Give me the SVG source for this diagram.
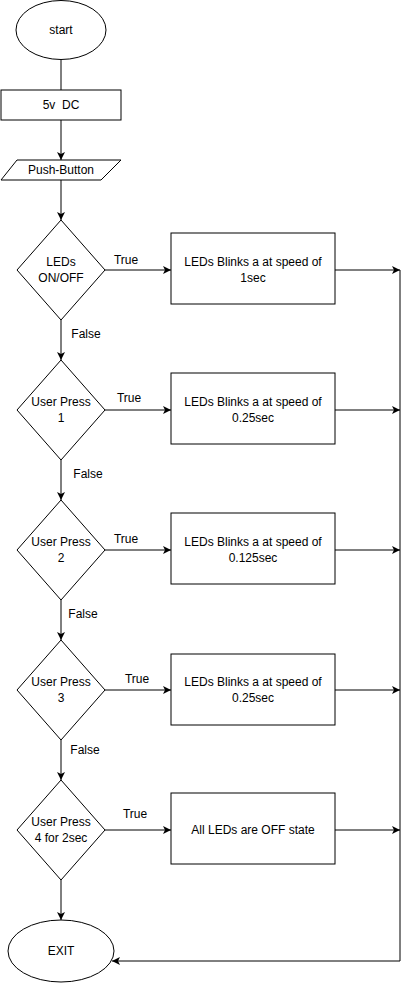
<svg xmlns="http://www.w3.org/2000/svg" width="409" height="983" viewBox="0 0 409 983">
<style>
.s{fill:#fff;stroke:#000;stroke-width:1}
.c{fill:none;stroke:#000;stroke-width:1}
text{font-family:"Liberation Sans",Arial,sans-serif;font-size:12px;fill:#000}
.m{text-anchor:middle}
</style>
<defs>
<marker id="a" markerUnits="userSpaceOnUse" markerWidth="10" markerHeight="10" refX="8" refY="4" orient="auto">
<path d="M0,0 L8,4 L0,8 L2,4 z" fill="#000"/>
</marker>
</defs>
<rect width="409" height="983" fill="#fff"/>
<g id="connectors">
<path class="c" d="M61,60 V90"/>
<path class="c" d="M61,120 V160" marker-end="url(#a)"/>
<path class="c" d="M61,180 V220" marker-end="url(#a)"/>
<path class="c" d="M61,320 V360" marker-end="url(#a)"/>
<path class="c" d="M61,460 V500" marker-end="url(#a)"/>
<path class="c" d="M61,600 V640" marker-end="url(#a)"/>
<path class="c" d="M61,740 V780" marker-end="url(#a)"/>
<path class="c" d="M61,880 V920" marker-end="url(#a)"/>
<path class="c" d="M105,270 H171" marker-end="url(#a)"/>
<path class="c" d="M105,410 H171" marker-end="url(#a)"/>
<path class="c" d="M105,550 H171" marker-end="url(#a)"/>
<path class="c" d="M105,690 H171" marker-end="url(#a)"/>
<path class="c" d="M105,830 H171" marker-end="url(#a)"/>
<path class="c" d="M335,270 H400" marker-end="url(#a)"/>
<path class="c" d="M335,410 H400" marker-end="url(#a)"/>
<path class="c" d="M335,550 H400" marker-end="url(#a)"/>
<path class="c" d="M335,690 H400" marker-end="url(#a)"/>
<path class="c" d="M335,830 H400" marker-end="url(#a)"/>
<path class="c" d="M400,270 V961 H112" marker-end="url(#a)"/>
<text class="m" x="126" y="264">True</text>
<text class="m" x="129" y="402">True</text>
<text class="m" x="126" y="543">True</text>
<text class="m" x="137" y="683">True</text>
<text class="m" x="135" y="818">True</text>
<text class="m" x="86" y="338">False</text>
<text class="m" x="88" y="478">False</text>
<text class="m" x="83" y="618">False</text>
<text class="m" x="85" y="754">False</text>
</g>
<g id="start">
<ellipse class="s" cx="61" cy="30" rx="45" ry="29.5"/>
<text class="m" x="61" y="34">start</text>
</g>
<g id="power">
<rect class="s" x="1" y="90" width="120" height="30"/>
<text class="m" x="61" y="109" xml:space="preserve">5v  DC</text>
</g>
<g id="pushbutton">
<polygon class="s" points="17,160 121,160 101,180 1,180"/>
<text class="m" x="61" y="174">Push-Button</text>
</g>
<g id="d1">
<polygon class="s" points="61,220 105,270 61,320 17,270"/>
<text class="m" x="61" y="266">LEDs</text>
<text class="m" x="61" y="282">ON/OFF</text>
</g>
<g id="r1">
<rect class="s" x="171" y="233" width="164" height="71"/>
<text class="m" x="253" y="266">LEDs Blinks a at speed of</text>
<text class="m" x="253" y="282">1sec</text>
</g>
<g id="d2">
<polygon class="s" points="61,360 105,410 61,460 17,410"/>
<text class="m" x="61" y="406">User Press</text>
<text class="m" x="61" y="422">1</text>
</g>
<g id="r2">
<rect class="s" x="171" y="373" width="164" height="71"/>
<text class="m" x="253" y="406">LEDs Blinks a at speed of</text>
<text class="m" x="253" y="422">0.25sec</text>
</g>
<g id="d3">
<polygon class="s" points="61,500 105,550 61,600 17,550"/>
<text class="m" x="61" y="546">User Press</text>
<text class="m" x="61" y="562">2</text>
</g>
<g id="r3">
<rect class="s" x="171" y="513" width="164" height="71"/>
<text class="m" x="253" y="546">LEDs Blinks a at speed of</text>
<text class="m" x="253" y="562">0.125sec</text>
</g>
<g id="d4">
<polygon class="s" points="61,640 105,690 61,740 17,690"/>
<text class="m" x="61" y="686">User Press</text>
<text class="m" x="61" y="702">3</text>
</g>
<g id="r4">
<rect class="s" x="171" y="654" width="164" height="71"/>
<text class="m" x="253" y="686">LEDs Blinks a at speed of</text>
<text class="m" x="253" y="702">0.25sec</text>
</g>
<g id="d5">
<polygon class="s" points="61,780 105,830 61,880 17,830"/>
<text class="m" x="61" y="826">User Press</text>
<text class="m" x="61" y="842">4 for 2sec</text>
</g>
<g id="r5">
<rect class="s" x="171" y="793" width="164" height="71"/>
<text class="m" x="253" y="834">All LEDs are OFF state</text>
</g>
<g id="exit">
<ellipse class="s" cx="61" cy="951" rx="53" ry="31"/>
<text class="m" x="61" y="955">EXIT</text>
</g>
</svg>
